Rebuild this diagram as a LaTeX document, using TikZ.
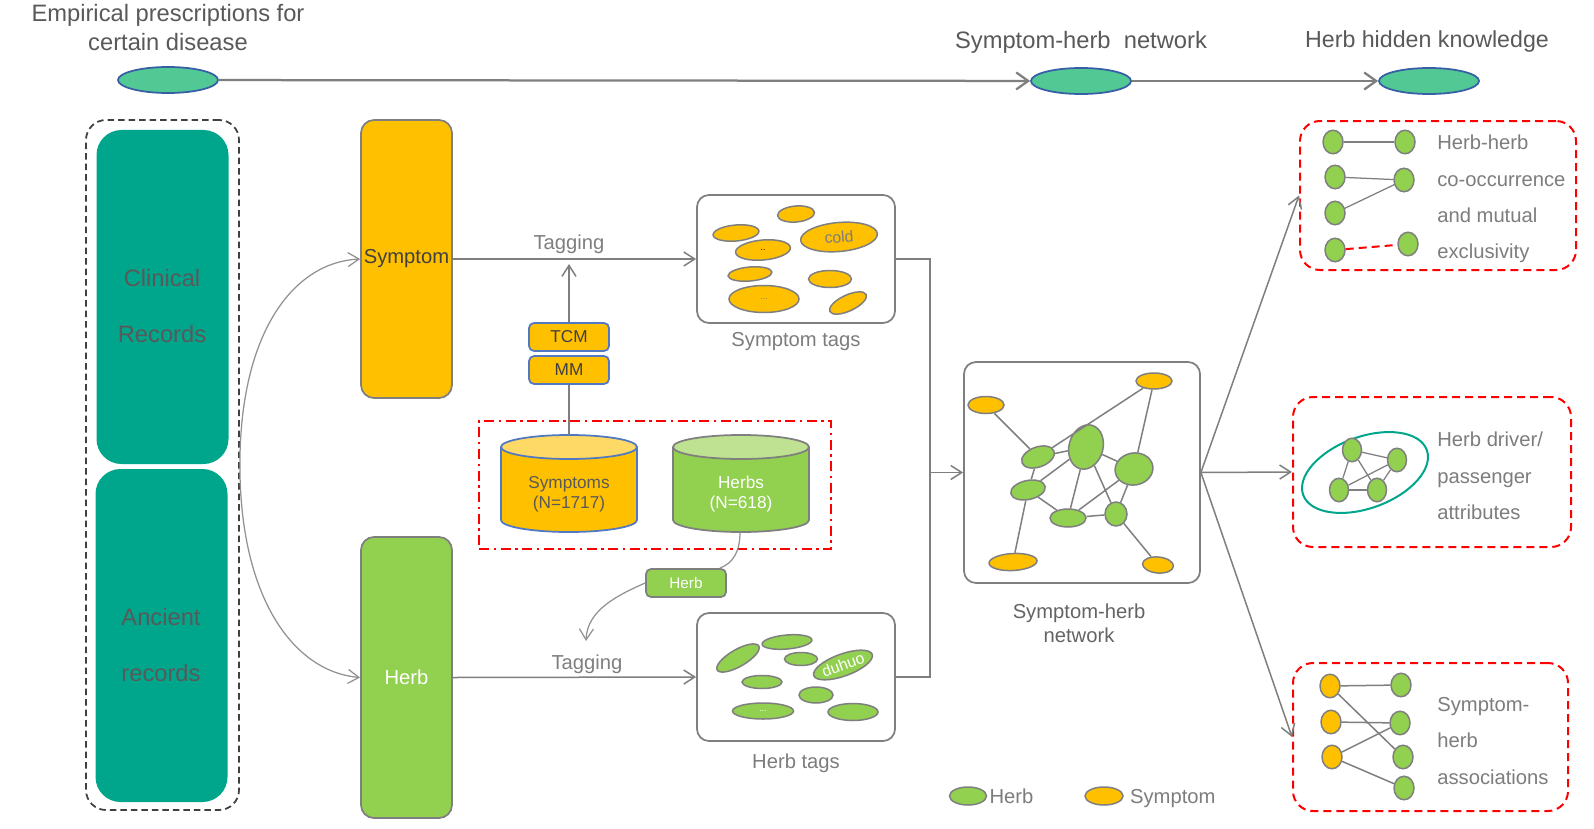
\documentclass[tikz,border=0pt]{standalone}
\usepackage{fontspec}
\setmainfont{Liberation Sans}
\usetikzlibrary{shapes.geometric,arrows.meta,positioning}

\definecolor{symorange}{RGB}{255,192,0}
\definecolor{symlight}{RGB}{255,217,102}
\definecolor{herbgreen}{RGB}{146,208,80}
\definecolor{herblight}{RGB}{190,226,145}
\definecolor{recteal}{RGB}{0,166,140}
\definecolor{mint}{RGB}{82,200,148}
\definecolor{hdrblue}{RGB}{55,95,165}
\definecolor{tcmblue}{RGB}{80,120,195}
\definecolor{linegray}{RGB}{127,127,127}
\definecolor{txtgray}{RGB}{125,125,125}
\definecolor{txtmid}{RGB}{100,100,100}
\definecolor{txtdark}{RGB}{89,89,89}

\begin{document}
\begin{tikzpicture}[x=0.2mm,y=-0.2mm]
  \tikzstyle{conn}=[draw=linegray, line width=0.3mm]
  \tikzstyle{arrowconn}=[conn, -{Straight Barb[length=2.2mm,width=2.8mm]}]
  \tikzstyle{flowarrow}=[draw=linegray, line width=0.45mm, -{Straight Barb[length=2.4mm,width=3.4mm]}]
  \tikzstyle{curveline}=[draw=linegray!85, line width=0.25mm]
  \tikzstyle{curvearrow}=[curveline, -{Straight Barb[length=2.2mm,width=2.8mm]}]
  \tikzstyle{hdr}=[ellipse, draw=hdrblue, fill=mint, line width=0.35mm, minimum width=20mm, minimum height=5.2mm]
  \tikzstyle{hdrtext}=[text=txtdark, font=\fontsize{13.5}{16.5}\selectfont, align=center]
  \tikzstyle{recbox}=[draw=black!75, line width=0.35mm, dash pattern=on 1.3mm off 0.8mm, rounded corners=4mm]
  \tikzstyle{tealbox}=[fill=recteal, rounded corners=5mm, minimum width=26.4mm, minimum height=66.8mm]
  \tikzstyle{tealtext}=[text=txtdark, font=\fontsize{13.5}{32.3}\selectfont, align=center]
  \tikzstyle{bar}=[draw=linegray, line width=0.35mm, rounded corners=2.6mm, minimum width=18.2mm, inner sep=0pt, font=\fontsize{11.5}{13.8}\selectfont]
  \tikzstyle{tcmbox}=[draw=tcmblue, fill=symorange, line width=0.35mm, rounded corners=1mm, minimum width=16mm, minimum height=5.6mm, text=black!75, font=\fontsize{9.8}{11.5}\selectfont]
  \tikzstyle{tagbox}=[draw=linegray, line width=0.35mm, rounded corners=2.4mm]
  \tikzstyle{label}=[text=txtgray, font=\fontsize{11.5}{13.8}\selectfont, align=center]
  \tikzstyle{sy}=[ellipse, draw=linegray, fill=symorange, line width=0.3mm, inner sep=0pt]
  \tikzstyle{hb}=[ellipse, draw=linegray, fill=herbgreen, line width=0.3mm, inner sep=0pt]
  \tikzstyle{small}=[minimum width=4mm, minimum height=4.7mm]
  \tikzstyle{resbox}=[draw=red, line width=0.4mm, dash pattern=on 1.6mm off 1mm, rounded corners=4mm]
  \tikzstyle{restext}=[text=txtgray, font=\fontsize{11.5}{20.7}\selectfont, align=left, anchor=west, inner sep=0pt]
  \tikzstyle{legtext}=[restext, text height=0.75em, text depth=0.22em, yshift=-0.5mm]
  \tikzstyle{dbtext}=[font=\fontsize{9.8}{11.5}\selectfont, align=center]

  \useasboundingbox (0,0) rectangle (1594,828);
  \fill[white] (0,0) rectangle (1594,828);

  % header
  \node[hdr] (start) at (168,80) {};
  \node[hdr] (mid) at (1081,81) {};
  \node[hdr] (goal) at (1429,81) {};
  \node[hdrtext] (starttxt) at (168,28) {Empirical prescriptions for\\certain disease};
  \node[hdrtext] (midtxt) at (1081,42) {Symptom-herb~ network};
  \node[hdrtext, font=\fontsize{13.2}{16}\selectfont] (goaltxt) at (1427,42) {Herb hidden knowledge};
  \draw[flowarrow] (start) -- (mid);
  \draw[flowarrow] (mid) -- (goal);

  % records
  \node[recbox, minimum width=30.6mm, minimum height=138mm] (recs) at (162.5,465) {};
  \node[tealbox] (clinical) at (162.5,297) {};
  \node[tealbox, minimum height=66.6mm] (ancient) at (161.5,635.5) {};
  \node[tealtext] (clintxt) at (162,306) {Clinical\\Records};
  \node[tealtext] (anctxt) at (161,645) {Ancient\\records};

  \node[bar, fill=symorange, minimum height=55.6mm, text=black!75] (symbar) at (406.5,259) {Symptom};
  \node[bar, fill=herbgreen, minimum height=56.2mm, text=white] (herbbar) at (406.5,677.5) {Herb};
  \draw[curvearrow] (recs.east) .. controls (240,330) and (295,262) .. (symbar.west);
  \draw[curvearrow] (recs.east) .. controls (240,600) and (295,672) .. (herbbar.west);

  % dictionaries
  \node[draw=red, line width=0.5mm, dash pattern=on 2mm off 0.9mm on 0.5mm off 0.9mm, minimum width=70.4mm, minimum height=25.6mm] (dbs) at (655,485) {};
  \fill[symorange] (501,447) -- (501,520) arc[start angle=180, end angle=360, x radius=13.6mm, y radius=2.4mm] -- (637,447) -- cycle;
  \draw[draw=tcmblue, line width=0.35mm] (501,447) -- (501,520) arc[start angle=180, end angle=360, x radius=13.6mm, y radius=2.4mm] -- (637,447);
  \filldraw[fill=symlight, draw=tcmblue, line width=0.35mm] (569,447) ellipse [x radius=13.6mm, y radius=2.4mm];
  \fill[herbgreen] (673,447) -- (673,520) arc[start angle=180, end angle=360, x radius=13.6mm, y radius=2.4mm] -- (809,447) -- cycle;
  \draw[draw=linegray, line width=0.35mm] (673,447) -- (673,520) arc[start angle=180, end angle=360, x radius=13.6mm, y radius=2.4mm] -- (809,447);
  \filldraw[fill=herblight, draw=linegray, line width=0.35mm] (741,447) ellipse [x radius=13.6mm, y radius=2.4mm];
  \node[dbtext, text=txtdark] (symdb) at (569,494) {Symptoms\\(N=1717)};
  \node[dbtext, text=white] (herbdb) at (741,494) {Herbs\\(N=618)};
  \coordinate (symtop) at (569,435);
  \coordinate (herbbot) at (740,532);

  \node[tcmbox] (tcm) at (569,337) {TCM};
  \node[tcmbox] (mm) at (569,370) {MM};
  \node[tcmbox, draw=linegray, fill=herbgreen, text=white, font=\fontsize{8.7}{10}\selectfont] (herbkey) at (686,583) {Herb};
  \coordinate (tagup) at (569,264);
  \coordinate (tagdown) at (586,641);
  \draw[conn] (mm.south) -- (symtop);
  \draw[arrowconn] (tcm.north) -- (tagup);
  \draw[curveline] (herbbot) .. controls (740,552) and (733,563) .. ([xshift=-1.4mm]herbkey.north east);
  \draw[curvearrow] (herbkey.west) .. controls (618,595) and (587,610) .. (tagdown);

  % tagging
  \node[tagbox, minimum width=39.6mm, minimum height=25.6mm] (symtags) at (796,259) {};
  \node[tagbox, minimum width=39.6mm, minimum height=25.6mm] (herbtags) at (796,677) {};
  \draw[arrowconn] (symbar.east) -- (symtags.west);
  \draw[arrowconn] (herbbar.east) -- (herbtags.west);
  \node[label, text=linegray] (tagtxt1) at (569,244) {Tagging};
  \node[label, text=linegray] (tagtxt2) at (587,664) {Tagging};
  \node[label] (symtagslbl) at (796,342) {Symptom tags};
  \node[label] (herbtagslbl) at (796,763) {Herb tags};

  \node[sy, minimum width=9.2mm, minimum height=3.2mm, rotate=5] (st1) at (736,233) {};
  \node[sy, minimum width=7.4mm, minimum height=3.2mm, rotate=5] (st2) at (796,214) {};
  \node[sy, minimum width=15.4mm, minimum height=5.8mm, rotate=5, text=txtgray, font=\fontsize{9}{10}\selectfont] (st3) at (839,237) {cold};
  \node[sy, minimum width=11mm, minimum height=4mm, rotate=5, font=\tiny] (st4) at (763,250) {..};
  \node[sy, minimum width=8.8mm, minimum height=2.8mm, rotate=5] (st5) at (750,274) {};
  \node[sy, minimum width=8.6mm, minimum height=3.4mm] (st6) at (830,279) {};
  \node[sy, minimum width=14mm, minimum height=5.4mm, font=\tiny, text=txtgray] (st7) at (764,299) {...};
  \node[sy, minimum width=8mm, minimum height=3.2mm, rotate=25] (st8) at (848,303) {};

  \node[hb, minimum width=9.6mm, minimum height=3.4mm, rotate=30] (ht1) at (738,658) {};
  \node[hb, minimum width=10mm, minimum height=2.8mm, rotate=5] (ht2) at (787,642) {};
  \node[hb, minimum width=6.6mm, minimum height=2.6mm] (ht3) at (801,659) {};
  \node[hb, minimum width=12.4mm, minimum height=4.4mm, rotate=20, text=white, font=\fontsize{9}{10}\selectfont] (ht4) at (843,665) {duhuo};
  \node[hb, minimum width=8mm, minimum height=2.6mm] (ht5) at (762,682) {};
  \node[hb, minimum width=6.8mm, minimum height=3.2mm] (ht6) at (816,695) {};
  \node[hb, minimum width=12.2mm, minimum height=3.2mm, text=white, font=\tiny] (ht7) at (763,711) {...};
  \node[hb, minimum width=10mm, minimum height=3.4mm] (ht8) at (853,712) {};

  % network
  \coordinate (merge) at (930,472.5);
  \node[tagbox, minimum width=47.2mm, minimum height=44.2mm] (net) at (1082,472.5) {};
  \draw[conn] (symtags.east) -| (merge);
  \draw[conn] (herbtags.east) -| (merge);
  \draw[arrowconn] (merge) -- (net.west);
  \node[label, text=txtmid] (netlbl) at (1079,623) {Symptom-herb\\network};

  \node[sy, minimum width=7.2mm, minimum height=3.4mm] (o1) at (986,405) {};
  \node[sy, minimum width=7.2mm, minimum height=3.2mm] (o2) at (1154,381) {};
  \node[sy, minimum width=9.6mm, minimum height=3.4mm, rotate=3] (o3) at (1013,562) {};
  \node[sy, minimum width=6.2mm, minimum height=3.2mm, rotate=-5] (o4) at (1158,565) {};
  \node[hb, minimum width=6.8mm, minimum height=4mm, rotate=20] (g1) at (1038,457) {};
  \node[hb, minimum width=9mm, minimum height=6.8mm, rotate=75] (g2) at (1086,447) {};
  \node[hb, minimum width=7.6mm, minimum height=6.4mm, rotate=10] (g3) at (1134,469) {};
  \node[hb, minimum width=7mm, minimum height=3.8mm, rotate=12] (g4) at (1028,490) {};
  \node[hb, minimum width=7.2mm, minimum height=3.6mm] (g5) at (1068,518) {};
  \node[hb, minimum width=4.4mm, minimum height=4.8mm] (g6) at (1116,514) {};
  \path[conn] (o1) edge (g1) (g1) edge (o2) (o2) edge (g3)
    (g1) edge (g2) (g1) edge (g4) (g4) edge (g2) (g4) edge (g5)
    (g2) edge (g5) (g5) edge (g3) (g5) edge (g6) (g2) edge (g6)
    (g2) edge (g3) (g6) edge (g3) (g4) edge (o3) (g6) edge (o4);

  % knowledge
  \node[resbox, minimum width=55.2mm, minimum height=29.8mm] (res1) at (1438,195.5) {};
  \node[resbox, minimum width=55.6mm, minimum height=30mm] (res2) at (1432,472) {};
  \node[resbox, minimum width=55mm, minimum height=29.6mm] (res3) at (1430.5,737) {};
  \draw[arrowconn] (net.east) -- (res1.west);
  \draw[arrowconn] (net.east) -- (res2.west);
  \draw[arrowconn] (net.east) -- (res3.west);

  \node[hb, small] (a1) at (1333,142) {};
  \node[hb, small] (a2) at (1405,142) {};
  \node[hb, small] (a3) at (1335,177) {};
  \node[hb, small] (a4) at (1404,180) {};
  \node[hb, small] (a5) at (1335,213) {};
  \node[hb, small] (a6) at (1335,250) {};
  \node[hb, small] (a7) at (1408,244) {};
  \path[conn, line width=0.25mm] (a1) edge (a2) (a3) edge (a4) (a5) edge (a4);
  \draw[draw=red, line width=0.4mm, dash pattern=on 1.6mm off 1mm] (a6) -- (a7);
  \node[restext] (res1txt) at (1437,199) {Herb-herb\\co-occurrence\\and mutual\\exclusivity};

  \node[ellipse, draw=recteal, line width=0.4mm, minimum width=26.3mm, minimum height=14.3mm, rotate=20] (ring) at (1365,472.5) {};
  \node[hb, small, minimum width=3.8mm] (b1) at (1352,450) {};
  \node[hb, small, minimum width=3.8mm] (b2) at (1397,460) {};
  \node[hb, small, minimum width=3.8mm] (b3) at (1339,490) {};
  \node[hb, small, minimum width=3.8mm] (b4) at (1377,490) {};
  \path[conn, line width=0.25mm] (b1) edge (b2) (b1) edge (b3) (b1) edge (b4)
    (b2) edge (b3) (b2) edge (b4) (b3) edge (b4);
  \node[restext] (res2txt) at (1437,476) {Herb driver/\\passenger\\attributes};

  \node[sy, small] (c1) at (1330,686) {};
  \node[sy, small] (c2) at (1331,722) {};
  \node[sy, small] (c3) at (1332,757) {};
  \node[hb, small] (d1) at (1401,685) {};
  \node[hb, small] (d2) at (1400,723) {};
  \node[hb, small] (d3) at (1403,757) {};
  \node[hb, small] (d4) at (1404,788) {};
  \path[conn] (c1) edge (d1) (c1) edge (d3) (c2) edge (d2) (c3) edge (d2) (c3) edge (d4);
  \node[restext] (res3txt) at (1437,741) {Symptom-\\herb\\associations};

  % legend
  \node[hb, minimum width=7.4mm, minimum height=3.6mm] (legherb) at (968,796) {};
  \node[legtext, right=0.4mm of legherb] (legherbtxt) {Herb};
  \node[sy, minimum width=7.6mm, minimum height=3.6mm] (legsym) at (1104,796) {};
  \node[legtext, right=1.2mm of legsym] (legsymtxt) {Symptom};
\end{tikzpicture}
\end{document}
